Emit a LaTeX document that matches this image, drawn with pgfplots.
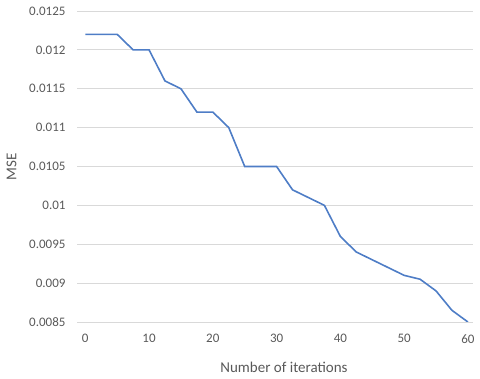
\documentclass[border=0pt]{standalone}
\usepackage{pgfplots}
\pgfplotsset{compat=1.18}
\usepackage{fontspec}
\setmainfont{Carlito}
\definecolor{exblue}{HTML}{4E7DC6}
\definecolor{gridc}{HTML}{D9D9D9}
\definecolor{txt}{HTML}{595959}
\begin{document}
\begin{tikzpicture}[x=1pt,y=1pt]
\useasboundingbox (0,0) rectangle (480,379);
\begin{axis}[
  at={(77pt,57pt)}, anchor=south west,
  scale only axis, width=396pt, height=311pt,
  xmin=-1.3, xmax=60.8, ymin=0.0085, ymax=0.0125,
  axis line style={draw=none},
  xtick={0,10,20,30,40,50,60},
  xticklabels={0,10,20,30,40,50,60},
  ytick={0.0085,0.009,0.0095,0.01,0.0105,0.011,0.0115,0.012,0.0125},
  yticklabels={0.0085,0.009,0.0095,0.01,0.0105,0.011,0.0115,0.012,0.0125},
  major tick length=0pt,
  ymajorgrids, grid style={gridc, line width=0.8pt},
  tick label style={font=\fontsize{13}{15}\selectfont, text=txt},
  yticklabel style={xshift=-8pt},
  xticklabel style={yshift=-9pt},
  xlabel={Number of iterations}, ylabel={MSE},
  label style={font=\fontsize{15}{17}\selectfont, text=txt},
  xlabel style={yshift=-12pt, xshift=9pt},
  ylabel style={yshift=6pt},
  scaled y ticks=false,
]
\addplot[exblue, line width=1.6pt, no marks] coordinates {
(0,0.0122) (2.5,0.0122) (5,0.0122) (7.5,0.0120) (10,0.0120)
(12.5,0.0116) (15,0.0115) (17.5,0.0112) (20,0.0112) (22.5,0.0110)
(25,0.0105) (27.5,0.0105) (30,0.0105) (32.5,0.0102) (35,0.0101)
(37.5,0.0100) (40,0.0096) (42.5,0.0094) (45,0.0093) (47.5,0.0092)
(50,0.0091) (52.5,0.00905) (55,0.0089) (57.5,0.00865) (60,0.0085)
};
\end{axis}
\end{tikzpicture}
\end{document}
